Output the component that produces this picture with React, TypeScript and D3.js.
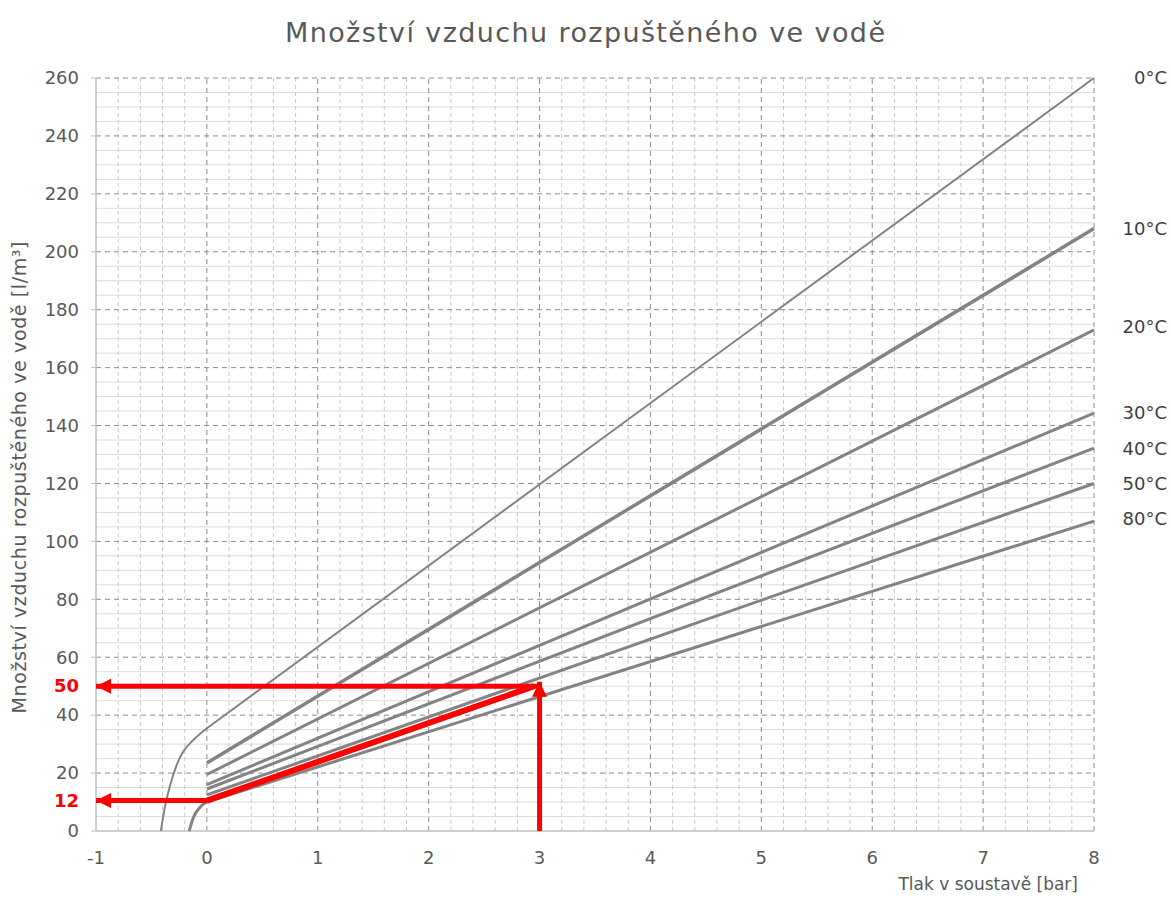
import React from "react";
import * as d3 from "d3";

// Series of the chart: pressure [bar] vs dissolved air [l/m3]
const seriesNames = ["0°C", "10°C", "20°C", "30°C", "40°C", "50°C", "80°C"];

const line0: [number, number][] = [
  [-0.415, 0], [-0.38, 8], [-0.33, 16], [-0.28, 22], [-0.22, 27], [-0.12, 31.5], [0, 35.5], [8, 260],
];
const line10: [number, number][] = [[0, 23.5], [8, 208]];
const line20: [number, number][] = [[0, 19.5], [8, 173]];
const line30: [number, number][] = [[0, 16], [8, 144.3]];
const line40: [number, number][] = [[0, 14.5], [8, 132.2]];
const line50: [number, number][] = [[0, 12.5], [8, 120]];
const line80: [number, number][] = [[-0.16, 0], [-0.12, 4.8], [-0.06, 8.3], [0, 10], [8, 107]];

const allLines = [line0, line10, line20, line30, line40, line50, line80];
const labelValues = [260, 208, 174, 144.5, 132, 120, 108];

// Red example reading
const redDiagonal: [number, number][] = [[0, 10.5], [2.95, 50]];
const redVertical: [number, number][] = [[3, 0], [3, 51.5]];
const redTop: [number, number][] = [[3, 50], [-1, 50]];
const redBottom: [number, number][] = [[0, 10.5], [-1, 10.5]];
const redLabels = [
  { text: "50", value: 50 },
  { text: "12", value: 10.5 },
];

const xTicks = [-1, 0, 1, 2, 3, 4, 5, 6, 7, 8];
const yTicks = [0, 20, 40, 60, 80, 100, 120, 140, 160, 180, 200, 220, 240, 260];

const W = 1171;
const H = 898;
const margin = { top: 78, right: 77, bottom: 67, left: 96 };

const App: React.FC = () => {
  const x = d3.scaleLinear().domain([-1, 8]).range([margin.left, W - margin.right]);
  const y = d3.scaleLinear().domain([0, 260]).range([H - margin.bottom, margin.top]);

  const curved = d3
    .line<[number, number]>()
    .x((d) => x(d[0]))
    .y((d) => y(d[1]))
    .curve(d3.curveMonotoneX);

  // bend below zero pressure, straight line above it
  const seriesPath = (pts: [number, number][]) => {
    const bend = pts.filter((d) => d[0] <= 0);
    const rest = pts.filter((d) => d[0] > 0);
    let d = bend.length > 1 ? curved(bend) || "" : `M${x(bend[0][0])},${y(bend[0][1])}`;
    rest.forEach((p) => {
      d += `L${x(p[0])},${y(p[1])}`;
    });
    return d;
  };
  const straight = d3
    .line<[number, number]>()
    .x((d) => x(d[0]))
    .y((d) => y(d[1]));

  const minorX = d3.range(-1, 8.001, 0.2).filter((v) => Math.abs(v - Math.round(v)) > 0.01);
  const minorY = d3.range(0, 260.01, 5).filter((v) => v % 20 !== 0);

  const font = "'DejaVu Sans', sans-serif";
  const textColor = "#595959";
  const red = "#ff0000";

  return (
    <svg
      width={W}
      height={H}
      style={{ position: "absolute", left: 0, top: 0, background: "#fff" }}
      fontFamily={font}
    >
      <defs>
        <marker
          id="arrow"
          viewBox="0 0 10 10"
          refX="10"
          refY="5"
          markerWidth="17"
          markerHeight="15"
          markerUnits="userSpaceOnUse"
          orient="auto"
        >
          <path d="M0,0 L10,5 L0,10 Z" fill={red} />
        </marker>
      </defs>

      {/* title */}
      <text
        x={585}
        y={42}
        textAnchor="middle"
        fontSize={27}
        fill={textColor}
        textLength={600}
        lengthAdjust="spacing"
      >
        Množství vzduchu rozpuštěného ve vodě
      </text>

      {/* minor grid */}
      {minorY.map((v) => (
        <line key={"my" + v} x1={x(-1)} x2={x(8)} y1={y(v)} y2={y(v)} stroke="#dcdcdc" strokeWidth={1} />
      ))}
      {minorX.map((v) => (
        <line
          key={"mx" + v}
          x1={x(v)}
          x2={x(v)}
          y1={y(0)}
          y2={y(260)}
          stroke="#c8c8c8"
          strokeWidth={1}
          strokeDasharray="4,3"
        />
      ))}

      {/* major grid */}
      {yTicks.slice(1).map((v) => (
        <line
          key={"gy" + v}
          x1={x(-1)}
          x2={x(8)}
          y1={y(v)}
          y2={y(v)}
          stroke="#8c8c8c"
          strokeWidth={1}
          strokeDasharray="5,4"
        />
      ))}
      {xTicks.slice(1).map((v) => (
        <line
          key={"gx" + v}
          x1={x(v)}
          x2={x(v)}
          y1={y(0)}
          y2={y(260)}
          stroke="#8c8c8c"
          strokeWidth={1}
          strokeDasharray="5,4"
        />
      ))}

      {/* axes */}
      <line x1={x(-1)} x2={x(-1)} y1={y(0)} y2={y(260)} stroke="#bfbfbf" strokeWidth={1.5} />
      <line x1={x(-1)} x2={x(8)} y1={y(0)} y2={y(0)} stroke="#bfbfbf" strokeWidth={1.5} />
      {yTicks.map((v) => (
        <line key={"ty" + v} x1={x(-1) - 5} x2={x(-1)} y1={y(v)} y2={y(v)} stroke="#bfbfbf" strokeWidth={1} />
      ))}

      {/* tick labels */}
      {yTicks.map((v) => (
        <text
          key={"ly" + v}
          x={x(-1) - 17}
          y={y(v)}
          dy="0.35em"
          textAnchor="end"
          fontSize={18}
          fill={textColor}
        >
          {v}
        </text>
      ))}
      {xTicks.map((v) => (
        <text key={"lx" + v} x={x(v)} y={y(0) + 33} textAnchor="middle" fontSize={18} fill={textColor}>
          {v}
        </text>
      ))}

      {/* axis titles */}
      <text
        transform={`translate(26,${(y(0) + y(260)) / 2 + 23}) rotate(-90)`}
        textAnchor="middle"
        fontSize={19}
        fill={textColor}
        textLength={472}
        lengthAdjust="spacing"
      >
        Množství vzduchu rozpuštěného ve vodě [l/m³]
      </text>
      <text x={x(8) - 16} y={H - 8} textAnchor="end" fontSize={17} fill={textColor}>
        Tlak v soustavě [bar]
      </text>

      {/* gray series */}
      {allLines.map((pts, i) => (
        <path
          key={"s" + i}
          d={seriesPath(pts)}
          fill="none"
          stroke="#838383"
          strokeWidth={i === 0 ? 2 : i === 1 ? 3.5 : 3}
        />
      ))}
      {seriesNames.map((name, i) => (
        <text
          key={"n" + i}
          x={W - 4}
          y={y(labelValues[i])}
          dy="0.35em"
          textAnchor="end"
          fontSize={18}
          fill="#404040"
        >
          {name}
        </text>
      ))}

      {/* red reading example */}
      <path d={straight(redDiagonal) || ""} stroke={red} strokeWidth={6} fill="none" />
      <path d={straight(redVertical) || ""} stroke={red} strokeWidth={5} fill="none" markerEnd="url(#arrow)" />
      <path d={straight(redTop) || ""} stroke={red} strokeWidth={5} fill="none" markerEnd="url(#arrow)" />
      <path d={straight(redBottom) || ""} stroke={red} strokeWidth={5} fill="none" markerEnd="url(#arrow)" />
      {redLabels.map((l) => (
        <text
          key={l.text}
          x={x(-1) - 17}
          y={y(l.value)}
          dy="0.35em"
          textAnchor="end"
          fontSize={18}
          fontWeight="bold"
          fill={red}
        >
          {l.text}
        </text>
      ))}
    </svg>
  );
};

export default App;
